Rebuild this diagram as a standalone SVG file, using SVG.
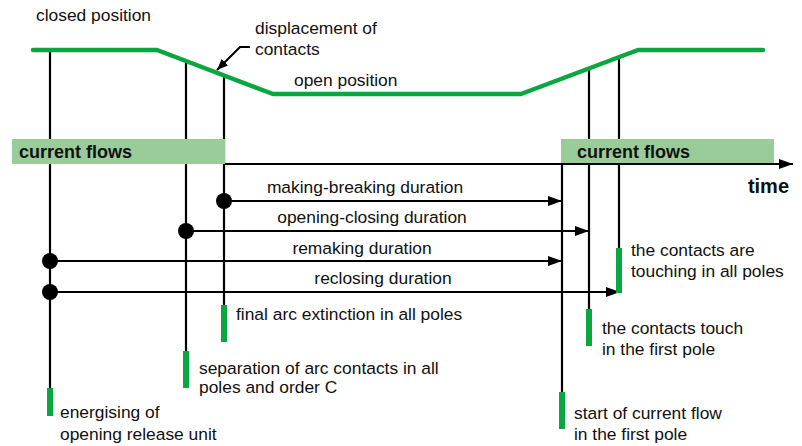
<svg xmlns="http://www.w3.org/2000/svg" width="802" height="446" viewBox="0 0 802 446">
<style>
text{font-family:"Liberation Sans",Arial,sans-serif;font-size:17.4px;fill:#111}
.b{font-weight:bold;font-size:18px}
.v{stroke:#000;stroke-width:2.2;fill:none}
.a{stroke:#000;stroke-width:2.2;fill:none;marker-end:url(#ah)}
.g{fill:#0aa640}
.box{fill:#99cc99}
</style>
<defs>
<marker id="ah" markerUnits="userSpaceOnUse" markerWidth="15" markerHeight="11" refX="14" refY="5" orient="auto"><path d="M0,0 L14,5 L0,10 z" fill="#000"/></marker>
<marker id="ah2" markerUnits="userSpaceOnUse" markerWidth="12" markerHeight="10" refX="11" refY="4.5" orient="auto"><path d="M0,0 L11,4.5 L0,9 z" fill="#000"/></marker>
</defs>
<rect width="802" height="446" fill="#fff"/>
<g id="connectors">
<line class="v" x1="50" y1="50" x2="50" y2="389"/>
<line class="v" x1="186" y1="61" x2="186" y2="352"/>
<line class="v" x1="224" y1="76" x2="224" y2="306"/>
<line class="v" x1="562" y1="164" x2="562" y2="393"/>
<line class="v" x1="589" y1="69" x2="589" y2="310"/>
<line class="v" x1="619" y1="58" x2="619" y2="249"/>
<polyline points="250,47 240,47 217,70" fill="none" stroke="#000" stroke-width="2" marker-end="url(#ah2)"/>
<line class="a" x1="224" y1="201" x2="562" y2="201"/>
<line class="a" x1="186" y1="231" x2="589" y2="231"/>
<line class="a" x1="50" y1="261" x2="562" y2="261"/>
<line class="a" x1="50" y1="292" x2="620" y2="292"/>
<circle cx="224" cy="201" r="8"/>
<circle cx="186" cy="231" r="8"/>
<circle cx="50" cy="261" r="8"/>
<circle cx="50" cy="292" r="8"/>
</g>
<g id="currentBoxes">
<rect class="box" x="12" y="139" width="213" height="25"/>
<text class="b" x="19" y="158">current flows</text>
<rect class="box" x="561" y="139" width="213" height="25"/>
<text class="b" x="577" y="158">current flows</text>
</g>
<g id="timeAxis">
<line class="a" x1="225" y1="164" x2="793" y2="164"/>
<text class="b" x="789" y="193" text-anchor="end" style="font-size:20px">time</text>
</g>
<g id="trace">
<polyline points="33,50 157,50 273,94 521,94 638,50 763,50" fill="none" stroke="#0aa640" stroke-width="4.5" stroke-linecap="round" stroke-linejoin="round"/>
<text x="36" y="21">closed position</text>
<text x="255" y="34">displacement of</text>
<text x="255" y="55">contacts</text>
<text x="294" y="86">open position</text>
</g>
<g id="durations">
<text x="365" y="193" text-anchor="middle">making-breaking duration</text>
<text x="372" y="223" text-anchor="middle">opening-closing duration</text>
<text x="362" y="254" text-anchor="middle">remaking duration</text>
<text x="383" y="284" text-anchor="middle">reclosing duration</text>
</g>
<g id="ev-energising">
<rect class="g" x="47" y="388" width="6" height="28"/>
<text x="60" y="418">energising of</text>
<text x="60" y="440">opening release unit</text>
</g>
<g id="ev-separation">
<rect class="g" x="183" y="351" width="6" height="37"/>
<text x="199" y="374">separation of arc contacts in all</text>
<text x="199" y="393">poles and order C</text>
</g>
<g id="ev-extinction">
<rect class="g" x="221" y="305" width="6" height="37"/>
<text x="236" y="320">final arc extinction in all poles</text>
</g>
<g id="ev-touching-all">
<rect class="g" x="616" y="248" width="6" height="45"/>
<text x="631" y="256">the contacts are</text>
<text x="631" y="277">touching in all poles</text>
</g>
<g id="ev-touch-first">
<rect class="g" x="586" y="309" width="6" height="37"/>
<text x="602" y="334">the contacts touch</text>
<text x="602" y="355">in the first pole</text>
</g>
<g id="ev-current-start">
<rect class="g" x="559" y="392" width="6" height="37"/>
<text x="574" y="419">start of current flow</text>
<text x="574" y="440">in the first pole</text>
</g>
</svg>
